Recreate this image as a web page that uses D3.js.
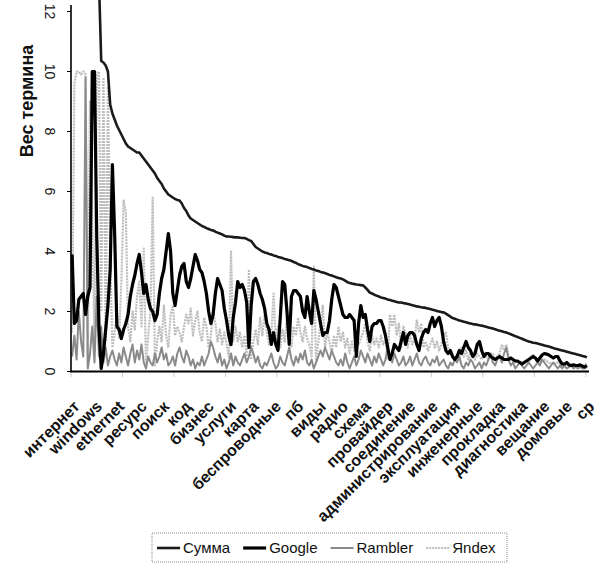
<!DOCTYPE html>
<html><head><meta charset="utf-8">
<script src="https://cdn.jsdelivr.net/npm/d3@7"></script>
<style>body{margin:0;background:#fff}svg{display:block}text{font-family:"Liberation Sans",Arial,sans-serif}</style>
</head><body><div id="chart"></div>
<script>
const labelStep = 10;
const tickLabels = ["интернет","windows","ethernet","ресурс","поиск","код","бизнес","услуги","карта","беспроводные","пб","виды","радио","схема","провайдер","соединение","администрирование","эксплуатация","инженерные","прокладка","диагностика","вещание","домовые","ср"];
const yTicks = [0,2,4,6,8,10,12];
const seriesNames = ["Сумма","Google","Rambler","Яndex"];

const sumVals = [30,27,24,22,20,18.5,17,16,15.2,14.5,14,13.5,13,
10.35,10.3,10.2,10.0,8.9,8.6,8.4,
8.2,8.05,7.9,7.75,7.6,7.5,7.45,7.4,7.35,7.3,
7.3,7.2,7.1,7.0,6.9,6.8,6.7,6.6,6.45,6.35,
6.25,6.1,6.0,5.9,5.85,5.8,5.75,5.72,5.7,5.6,
5.45,5.35,5.2,5.1,5.05,5.0,4.95,4.9,4.85,4.82,
4.78,4.75,4.72,4.7,4.66,4.63,4.6,4.57,4.53,4.5,
4.5,4.49,4.48,4.47,4.47,4.46,4.45,4.45,4.42,4.38,
4.35,4.25,4.15,4.1,4.05,4.0,3.97,3.95,3.92,3.9,
3.87,3.85,3.82,3.8,3.78,3.75,3.73,3.71,3.69,3.65,
3.62,3.58,3.55,3.52,3.5,3.48,3.45,3.42,3.4,3.37,
3.35,3.32,3.3,3.28,3.25,3.22,3.2,3.17,3.14,3.12,
3.1,3.07,3.03,2.98,2.95,2.93,2.92,2.9,2.89,2.88,
2.87,2.8,2.72,2.63,2.6,2.56,2.53,2.5,2.47,2.45,
2.43,2.4,2.38,2.36,2.34,2.32,2.3,2.3,2.28,2.27,
2.25,2.23,2.21,2.19,2.17,2.16,2.14,2.13,2.12,2.1,
2.08,2.06,2.04,2.02,2.0,1.98,1.97,1.93,1.88,1.83,
1.78,1.76,1.73,1.7,1.68,1.66,1.64,1.62,1.6,1.58,
1.57,1.56,1.54,1.53,1.51,1.49,1.47,1.45,1.43,1.41,
1.38,1.36,1.34,1.32,1.3,1.27,1.24,1.21,1.18,1.15,
1.12,1.09,1.06,1.03,1.0,0.98,0.96,0.95,0.93,0.91,
0.89,0.87,0.85,0.83,0.81,0.78,0.76,0.74,0.72,0.7,
0.68,0.66,0.64,0.62,0.6,0.58,0.56,0.54,0.52,0.5,0.47];

const googleVals = [3.9,1.6,1.7,2.4,2.5,2.6,1.9,2.5,2.8,10,
10,4.5,1.5,0.1,0.6,1.4,2.2,3.4,6.9,4.6,
1.5,1.4,1.1,1.4,1.6,1.9,2.5,2.9,3.2,3.6,
3.9,3.3,2.6,2.9,2.4,2.1,2.0,1.7,1.9,2.6,
3.1,3.4,4.0,4.6,4.0,2.6,2.2,2.7,3.2,3.5,
3.6,3.0,2.8,3.1,3.5,3.9,3.7,3.4,3.3,3.0,
2.6,2.0,1.6,1.9,2.6,3.1,2.9,2.7,2.1,1.7,
1.2,0.9,1.8,2.3,3.0,2.8,2.9,2.7,2.3,0.8,
2.2,3.0,3.1,2.9,2.6,2.4,2.1,1.6,1.4,0.9,
1.3,0.9,0.7,1.8,3.0,2.9,2.0,0.9,2.5,2.7,
2.7,2.6,2.5,2.0,1.8,2.5,2.0,1.6,2.7,2.4,
2.0,1.6,1.2,1.3,1.3,1.7,2.4,2.9,2.8,2.5,
2.2,1.9,1.8,1.8,1.9,1.8,1.7,0.5,1.6,2.2,
1.8,1.9,1.4,1.0,1.5,1.6,1.6,1.7,1.7,1.5,
1.2,0.8,0.4,0.6,0.9,0.8,0.7,1.0,1.3,0.9,
1.2,1.3,1.3,1.2,0.9,0.7,1.1,1.3,1.4,1.3,
1.6,1.8,1.5,1.7,1.8,1.5,1.0,0.7,0.6,0.7,
0.5,0.4,0.5,0.7,0.6,0.8,1.0,0.8,0.7,0.5,
0.6,0.9,1.0,0.7,0.5,0.6,0.6,0.5,0.45,0.4,
0.45,0.5,0.45,0.4,0.4,0.4,0.45,0.4,0.35,0.35,
0.3,0.25,0.3,0.35,0.4,0.45,0.5,0.45,0.35,0.45,
0.55,0.6,0.58,0.55,0.5,0.45,0.5,0.5,0.35,0.25,
0.25,0.3,0.22,0.2,0.22,0.2,0.2,0.22,0.18,0.15,0.2];

const ramblerVals = [0.5,1.2,0.4,2.0,1.0,0.5,9.8,0.1,0.6,1.5,
0.3,2.5,0.5,1.5,0.3,0.8,0.2,0.5,0.7,0.4,
0.2,0.6,0.3,0.8,0.5,0.2,0.6,0.9,0.3,0.7,
0.4,0.9,0.3,0.1,0.5,0.3,0.2,0.6,0.3,0.5,
0.8,0.4,0.6,0.2,0.3,0.5,0.2,0.6,0.8,0.5,
0.3,0.7,0.5,0.2,0.4,0.1,0.3,0.2,0.5,0.2,
0.4,0.6,1.0,0.8,0.5,0.3,0.6,0.2,0.4,0.1,
0.3,0.6,0.2,0.5,0.3,0.2,0.4,0.6,0.3,0.5,
0.8,0.6,0.3,0.5,0.2,0.1,0.3,0.2,0.4,0.6,
0.3,0.1,0.2,0.5,0.3,0.2,0.5,0.8,0.4,0.2,
0.5,0.3,0.6,0.4,0.7,0.3,0.2,0.4,0.1,0.3,
0.5,0.7,0.5,0.8,0.6,0.4,0.7,0.5,0.3,0.2,
0.4,0.2,0.6,0.3,0.1,0.3,0.5,0.2,0.4,0.7,
0.5,0.3,0.6,0.4,0.2,0.5,0.3,0.6,0.4,0.2,
0.4,0.8,0.5,0.3,0.6,0.4,0.2,0.3,0.5,0.2,
0.3,0.5,0.2,0.4,0.6,0.3,0.2,0.4,0.5,0.3,
0.2,0.4,0.3,0.5,0.2,0.3,0.4,0.2,0.1,0.3,
0.2,0.4,0.3,0.5,0.2,0.1,0.3,0.2,0.4,0.3,
0.1,0.2,0.3,0.1,0.3,0.2,0.4,0.6,0.3,0.2,
0.4,0.5,0.3,0.6,0.8,0.4,0.2,0.3,0.1,0.2,
0.3,0.2,0.1,0.2,0.3,0.2,0.1,0.2,0.3,0.2,
0.4,0.3,0.2,0.1,0.2,0.3,0.2,0.1,0.2,0.1,
0.2,0.1,0.15,0.2,0.1,0.15,0.1,0.15,0.1,0.1,0.15];

const yandexVals = [1.3,9.6,10.0,10.0,9.9,10.0,9.9,0.2,9.0,5.0,
1.0,9.9,10.0,2.0,9.8,1.0,9.5,4.0,0.8,1.3,
2.0,1.1,3.0,5.7,5.3,1.5,1.0,2.0,1.4,2.5,
3.0,1.5,4.1,0.2,1.2,2.0,5.8,0.2,1.0,1.5,
1.0,2.2,1.2,0.8,1.9,2.2,1.2,1.5,1.3,1.0,
1.5,1.9,1.6,2.1,1.2,1.7,2.0,1.3,1.0,1.8,
1.5,0.8,1.2,2.0,1.6,1.0,1.4,0.9,1.3,0.9,
0.5,4.0,1.0,1.5,1.0,1.3,0.8,1.2,0.5,3.4,
0.4,1.0,1.4,0.9,1.8,1.2,1.9,1.3,0.9,1.2,
2.6,1.0,1.5,0.8,1.4,1.0,1.8,1.2,0.8,1.5,
1.2,1.8,1.3,1.0,1.5,1.1,0.9,0.5,3.5,0.3,
1.0,1.6,2.2,0.8,1.3,1.0,0.6,1.2,0.8,1.5,
1.0,1.3,0.8,1.1,0.6,1.0,0.7,1.3,0.9,1.1,
1.3,1.6,1.0,0.7,1.2,0.9,1.1,0.8,1.2,0.9,
1.1,0.4,1.9,1.5,1.9,1.2,1.6,0.8,1.5,1.3,
0.8,1.2,0.9,1.1,1.7,1.3,1.6,0.8,1.0,0.7,
0.9,1.1,0.8,1.0,0.7,0.9,1.2,1.3,0.8,0.6,
0.5,0.4,0.6,0.5,0.8,0.5,0.7,0.4,0.6,0.5,
0.4,0.6,0.5,0.4,0.6,0.5,0.4,0.5,0.6,0.4,
0.5,0.6,0.9,0.7,0.9,0.5,0.4,0.35,0.3,0.35,
0.3,0.35,0.3,0.4,0.3,0.5,0.55,0.4,0.3,0.35,
0.3,0.4,0.35,0.3,0.25,0.3,0.25,0.3,0.25,0.2,
0.2,0.25,0.2,0.18,0.2,0.15,0.2,0.18,0.15,0.2,0.3];

const W = 597, H = 565;
const N = sumVals.length;
const svg = d3.select("#chart").append("svg").attr("width", W).attr("height", H);

const x = d3.scaleLinear().domain([-0.5, N - 0.5]).range([71, 588]);
const y = d3.scaleLinear().domain([0, 12.2]).range([371.5, 5.5]);

// category tick marks (every 23 categories)
const minorTicks = d3.range(0, N + 1, 23).map(k => k - 0.5);
svg.append("g").selectAll("line").data(minorTicks).join("line")
  .attr("x1", d => x(d)).attr("x2", d => x(d))
  .attr("y1", y(0)).attr("y2", y(0) + 5)
  .attr("stroke", "#999").attr("stroke-width", 1).attr("stroke-dasharray", "1,1");

const line = d3.line().x((d, i) => x(i)).y(d => y(d));

const styles = {
  "Сумма":   {stroke: "#1a1a1a", width: 2.6, dash: null},
  "Google":  {stroke: "#000000", width: 3.2, dash: null},
  "Rambler": {stroke: "#8a8a8a", width: 2, dash: null},
  "Яndex":   {stroke: "#bdbdbd", width: 2.2, dash: "2,1"}
};
const seriesData = {"Сумма": sumVals, "Google": googleVals, "Rambler": ramblerVals, "Яndex": yandexVals};
const drawOrder = ["Яndex", "Rambler", "Google", "Сумма"];

svg.append("g").selectAll("path").data(drawOrder).join("path")
  .attr("d", n => line(seriesData[n]))
  .attr("fill", "none")
  .attr("stroke", n => styles[n].stroke)
  .attr("stroke-width", n => styles[n].width)
  .attr("stroke-dasharray", n => styles[n].dash)
  .attr("stroke-linejoin", "round");

// axes
svg.append("line").attr("x1", 71).attr("x2", 71).attr("y1", 5).attr("y2", y(0))
  .attr("stroke", "#000").attr("stroke-width", 1.6);
svg.append("line").attr("x1", 70).attr("x2", 589).attr("y1", y(0)).attr("y2", y(0))
  .attr("stroke", "#000").attr("stroke-width", 2);

const yAxis = svg.append("g");
yAxis.selectAll("line").data(yTicks).join("line")
  .attr("x1", 67).attr("x2", 71).attr("y1", d => y(d)).attr("y2", d => y(d))
  .attr("stroke", "#000").attr("stroke-width", 1);
yAxis.selectAll("text").data(yTicks).join("text")
  .attr("transform", d => `translate(45,${y(d)}) rotate(90)`)
  .attr("text-anchor", "middle")
  .attr("font-size", 14).attr("fill", "#111")
  .text(d => d);

svg.append("text")
  .attr("transform", "translate(33,101) rotate(-90)")
  .attr("text-anchor", "middle")
  .attr("font-size", 18).attr("font-weight", "bold").attr("fill", "#111")
  .text("Вес термина");

// category labels
const labelIdx = tickLabels.map((d, k) => k * labelStep);
const xAxis = d3.axisBottom(x).tickValues(labelIdx).tickSize(0)
  .tickFormat((d, k) => tickLabels[k]);
const gx = svg.append("g").attr("transform", `translate(0,${y(0)})`).call(xAxis);
gx.select(".domain").remove();
gx.selectAll("text")
  .attr("x", 0).attr("y", 0).attr("dy", null)
  .attr("transform", "translate(8,36) rotate(-45)")
  .attr("text-anchor", "end")
  .attr("font-size", 16).attr("font-weight", "bold").attr("fill", "#111")
  .style("font-family", "'Liberation Sans', Arial, sans-serif");

// legend
const lg = svg.append("g");
lg.append("rect").attr("x", 152).attr("y", 533).attr("width", 355).attr("height", 29)
  .attr("fill", "none").attr("stroke", "#888").attr("stroke-width", 1).attr("stroke-dasharray", "1,1");
let lx = 157;
seriesNames.forEach(n => {
  const st = styles[n];
  lg.append("line").attr("x1", lx).attr("x2", lx + 23).attr("y1", 548).attr("y2", 548)
    .attr("stroke", st.stroke).attr("stroke-width", st.width).attr("stroke-dasharray", st.dash);
  const t = lg.append("text").attr("x", lx + 26).attr("y", 553)
    .attr("font-size", 15).attr("fill", "#111").text(n);
  lx += 26 + t.node().getComputedTextLength() + 13;
});
</script></body></html>
